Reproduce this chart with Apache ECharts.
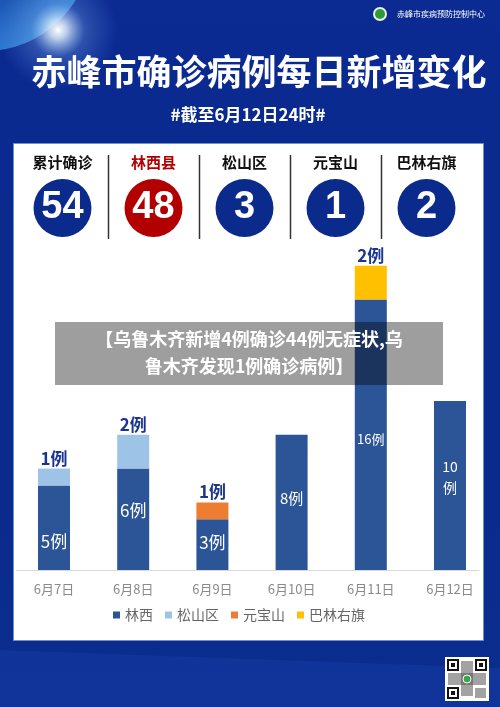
<!DOCTYPE html>
<html><head><meta charset="utf-8">
<script src="https://cdn.jsdelivr.net/npm/echarts@6/dist/echarts.min.js"></script>
<style>html,body{margin:0;padding:0;background:#0a2a8c}#c{width:500px;height:707px}</style>
</head><body><div id="c"></div>
<script>
// ---- data ----
const dates = ['6月7日','6月8日','6月9日','6月10日','6月11日','6月12日'];
const linxi = [5,6,3,8,16,10];
const songshan = [1,2,null,null,null,null];
const yuanbaoshan = [null,null,1,null,null,null];
const balin = [null,null,null,null,2,null];
const seriesNames = ['林西','松山区','元宝山','巴林右旗'];
const summaryNames = ['累计确诊','林西县','松山区','元宝山','巴林右旗'];
const summaryValues = [54,48,3,1,2];
const titleText = '赤峰市确诊病例每日新增变化';
const subtitleText = '#截至6月12日24时#';
const overlayText = '【乌鲁木齐新增4例确诊44例无症状,乌\n鲁木齐发现1例确诊病例】';
const orgText = '赤峰市疾病预防控制中心';

// ---- styles ----
const colors = ['#2b5597','#9dc3e6','#ed7d31','#ffc000'];
const circleColors = ['#0a2a8c','#b20000','#0a2a8c','#0a2a8c','#0a2a8c'];
const linxiFont = [17,17,17,15,13,14];
const linxiOffset = [[0,14],[0,-9],[0,-2],[0,-4],[0,4],[0,-8]];
const FF = '"Noto Sans CJK SC","Noto Sans",sans-serif';

const chart = echarts.init(document.getElementById('c'), null, {renderer:'canvas'});

const topLabel = {show:true, position:'top', distance:2, color:'#1a3590', fontSize:17, fontWeight:'bold', fontFamily:FF,
  formatter: p => p.value + '例'};

function bg(){
  return [
    {type:'rect', z:-10, shape:{x:0,y:0,width:500,height:707}, style:{fill:new echarts.graphic.LinearGradient(0,0,0,1,[
      {offset:0,color:'#0b2a92'},{offset:0.5,color:'#0a2a8c'},{offset:1,color:'#0b2d8e'}])}},
    {type:'circle', z:-9, shape:{cx:-15,cy:-55,r:106}, style:{fill:new echarts.graphic.RadialGradient(0.55,0.6,0.62,[
      {offset:0,color:'#123c9c'},{offset:0.7,color:'#2f7fd6'},{offset:0.95,color:'#78c4f4'},{offset:1,color:'#a8e2ff'}])}},
    {type:'circle', z:-8, shape:{cx:58,cy:30,r:60}, style:{fill:new echarts.graphic.RadialGradient(0.5,0.5,0.5,[
      {offset:0,color:'rgba(255,255,255,1)'},{offset:0.15,color:'rgba(230,245,255,0.8)'},{offset:0.45,color:'rgba(150,200,255,0.25)'},{offset:1,color:'rgba(120,180,255,0)'}])}},
    {type:'polygon', z:-8, shape:{points:[[0,650],[500,668],[500,707],[0,707]]}, style:{fill:'rgba(30,70,180,0.3)'}},
    // logo
    {type:'circle', z:5, shape:{cx:380,cy:14,r:7}, style:{fill:'#e8f2e0'}},
    {type:'circle', z:5, shape:{cx:380,cy:14,r:5}, style:{fill:'#2e9a3a'}},
    {type:'text', z:5, style:{x:397,y:14,text:orgText,fill:'#fff',font:'8px '+FF,textVerticalAlign:'middle'}},
    // title
    {type:'text', z:5, style:{x:259,y:72,text:titleText,fill:'#fff',font:'bold 35px '+FF,textAlign:'center',textVerticalAlign:'middle'}},
    {type:'text', z:5, style:{x:248,y:115,text:subtitleText,fill:'#fff',font:'bold 17px '+FF,textAlign:'center',textVerticalAlign:'middle'}},
    // panel
    {type:'rect', z:-5, shape:{x:13.5,y:143.5,width:470,height:497}, style:{fill:'#fff',stroke:'#6f8fd0',lineWidth:1}},
    // x axis line
    {type:'line', z:1, shape:{x1:16,y1:570.5,x2:479,y2:570.5}, style:{stroke:'#d9d9d9',lineWidth:1}},
    // overlay
    {type:'rect', z:100, shape:{x:55,y:322,width:388,height:63}, style:{fill:'rgba(0,0,0,0.38)'}},
    {type:'text', z:101, style:{x:249,y:353,text:overlayText,fill:'#fff',font:'bold 18px '+FF,textAlign:'center',textVerticalAlign:'middle',lineHeight:27}},
    // QR
    {type:'rect', z:5, shape:{x:445,y:657,width:44,height:44}, style:{fill:'#fff'}},
    {type:'rect', z:6, shape:{x:448,y:660,width:10,height:10}, style:{fill:'none',stroke:'#111',lineWidth:2}},
    {type:'rect', z:6, shape:{x:476,y:660,width:10,height:10}, style:{fill:'none',stroke:'#111',lineWidth:2}},
    {type:'rect', z:6, shape:{x:448,y:688,width:10,height:10}, style:{fill:'none',stroke:'#111',lineWidth:2}},
    {type:'rect', z:6, shape:{x:451,y:663,width:4,height:4}, style:{fill:'#111'}},
    {type:'rect', z:6, shape:{x:479,y:663,width:4,height:4}, style:{fill:'#111'}},
    {type:'rect', z:6, shape:{x:451,y:691,width:4,height:4}, style:{fill:'#111'}},
    {type:'rect', z:6, shape:{x:461,y:661,width:12,height:35}, style:{fill:'#555',opacity:0.55}},
    {type:'rect', z:6, shape:{x:448,y:673,width:38,height:12}, style:{fill:'#555',opacity:0.55}},
    {type:'rect', z:6, shape:{x:475,y:688,width:11,height:10}, style:{fill:'#555',opacity:0.55}},
    {type:'circle', z:7, shape:{cx:467,cy:679,r:4}, style:{fill:'#3aa64a',stroke:'#fff',lineWidth:1}}
  ];
}

const option = {
  animation:false,
  textStyle:{fontFamily:FF},
  grid:[
    {left:14.4, right:10.4, top:232, bottom:137},
    {left:17, width:455, top:180, height:56}
  ],
  xAxis:[
    {type:'category', gridIndex:0, data:dates, axisLine:{show:false}, axisTick:{show:false},
     axisLabel:{color:'#8a8a8a', fontSize:13, margin:13, fontFamily:FF}},
    {type:'category', gridIndex:1, position:'top', data:summaryNames, axisLine:{show:false}, axisTick:{show:false},
     axisLabel:{margin:10, formatter:(v,i)=> i===1 ? '{r|'+v+'}' : '{n|'+v+'}',
       rich:{r:{color:'#b20000',fontSize:15,fontWeight:'bold',fontFamily:FF}, n:{color:'#111',fontSize:15,fontWeight:'bold',fontFamily:FF}}}}
  ],
  yAxis:[
    {type:'value', gridIndex:0, min:0, max:20, show:false},
    {type:'value', gridIndex:1, min:0, max:1, show:false}
  ],
  legend:{top:608, left:113, itemWidth:7, itemHeight:7, itemGap:12, icon:'rect', padding:0,
    textStyle:{color:'#666', fontSize:14, fontFamily:FF}, data:seriesNames},
  series:[
    {name:seriesNames[0], type:'bar', stack:'a', barWidth:32, itemStyle:{color:colors[0]},
     data: linxi.map((v,i)=>({value:v, label:{fontSize:linxiFont[i], offset:linxiOffset[i]}})),
     label:{show:true, position:'inside', color:'#fff', fontFamily:FF, fontWeight:'normal', lineHeight:21,
       formatter:p=> p.dataIndex===5 ? (p.value+'\n例') : p.value+'例'}},
    {name:seriesNames[1], type:'bar', stack:'a', barWidth:32, itemStyle:{color:colors[1]}, data:songshan, label:topLabel},
    {name:seriesNames[2], type:'bar', stack:'a', barWidth:32, itemStyle:{color:colors[2]}, data:yuanbaoshan, label:topLabel},
    {name:seriesNames[3], type:'bar', stack:'a', barWidth:32, itemStyle:{color:colors[3]}, data:balin, label:topLabel},
    {type:'scatter', xAxisIndex:1, yAxisIndex:1, symbolSize:58, silent:true,
     data: summaryValues.map((v,i)=>({value:[i,0.5], itemStyle:{color:circleColors[i], opacity:1}})),
     label:{show:true, position:'inside', color:'#fff', fontSize:38, fontWeight:'bold', fontFamily:'"Liberation Sans",Arial,sans-serif',
       formatter:p=> String(summaryValues[p.dataIndex])}}
  ],
  graphic: bg()
};
chart.setOption(option);

// dividers between summary circles, from the category axis positions
const divs = [];
for (let i=0;i<summaryNames.length-1;i++){
  const a = chart.convertToPixel({xAxisIndex:1}, i);
  const b = chart.convertToPixel({xAxisIndex:1}, i+1);
  const x = Math.round((a+b)/2)+0.5;
  divs.push({type:'line', z:5, shape:{x1:x,y1:155,x2:x,y2:239}, style:{stroke:'#333',lineWidth:1.5}});
}
chart.setOption({graphic: bg().concat(divs)}, {replaceMerge:['graphic']});
</script></body></html>
